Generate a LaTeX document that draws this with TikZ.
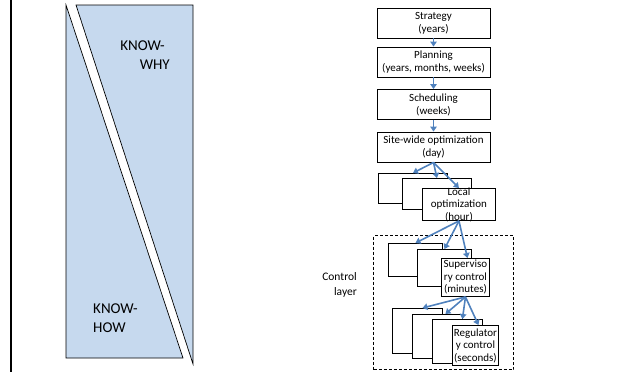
\documentclass[tikz,border=0pt]{standalone}
\usepackage{fontspec}
\setmainfont{Carlito}
\usetikzlibrary{arrows.meta}
\definecolor{panelblue}{RGB}{198,217,238}
\definecolor{arrowblue}{RGB}{79,129,189}

\begin{document}
\begin{tikzpicture}[x=1pt,y=-1pt,
  levelbox/.style={draw=black, line width=0.9pt, fill=white, minimum width=113pt,
    minimum height=30pt, inner sep=0pt, align=center, font=\fontsize{11}{13}\selectfont},
  stackbox/.style={draw=black, line width=0.9pt, fill=white, inner sep=0pt, anchor=north west},
  boxtext/.style={align=center, inner sep=0pt, font=\fontsize{11}{12.5}\selectfont},
  flow/.style={draw=arrowblue, line width=1.6pt, -{Triangle[width=6.5pt,length=5pt]}},
  panel/.style={fill=panelblue, draw=black, line width=0.7pt},
  bigtext/.style={font=\fontsize{15}{19}\selectfont, inner sep=0pt},
  layerframe/.style={draw=black, line width=1pt, dash pattern=on 3pt off 2pt,
    inner sep=0pt, anchor=north west},
]
\useasboundingbox (0,0) rectangle (621,372);

% separator line on the left
\draw[line width=1.5pt] (11,0) -- (11,372);

% know-how / know-why panel: two triangles split by a diagonal gap
\path[panel] (66,5) -- (183,358) -- (66,358) -- cycle;
\path[panel] (76,5) -- (193,5) -- (193,364) -- cycle;
\node[bigtext, align=right, anchor=east] (why) at (170,55) {KNOW-\hspace*{5pt}\\WHY};
\node[bigtext, align=left, anchor=west] (how) at (93,318) {KNOW-\\HOW};

% decision hierarchy
\node[levelbox] (strategy) at (433.5,23) {Strategy\\(years)};
\node[levelbox] (planning) at (433.5,62) {Planning\\(years, months, weeks)};
\node[levelbox] (scheduling) at (433.5,104.5) {Scheduling\\(weeks)};
\node[levelbox] (site) at (433.5,147) {Site-wide optimization\\(day)};

\draw[flow] (strategy) -- (planning);
\draw[flow] (planning) -- (scheduling);
\draw[flow] (scheduling) -- (site);

% local optimization layer
\node[stackbox, minimum width=69pt, minimum height=30pt] (locA) at (378,173) {};
\node[stackbox, minimum width=69pt, minimum height=31pt] (locB) at (402,178) {};
\node[stackbox, minimum width=73pt, minimum height=32pt] (locC) at (422,188) {};
\node[boxtext] (loctext) at (locC.center) {Local\\optimization\\(hour)};

\draw[flow] (site.south) -- (locA.north);
\draw[flow] (site.south) -- (locB.north);
\draw[flow] (site.south) -- (locC.north);

% control layer
\node[layerframe, minimum width=140pt, minimum height=134pt] (layer) at (373,235) {};
\node[align=right, anchor=east, inner sep=0pt, font=\fontsize{11.5}{15}\selectfont]
  (layerlabel) at (357,285) {Control\\layer};

\node[stackbox, minimum width=54pt, minimum height=33pt] (supA) at (388,243) {};
\node[stackbox, minimum width=54pt, minimum height=37pt] (supB) at (417,249) {};
\node[stackbox, minimum width=48pt, minimum height=38pt] (supC) at (441,258) {};
\node[boxtext] (suptext) at (supC.center) {Superviso\\ry control\\(minutes)};

\draw[flow] (locC.south) -- (supA.north);
\draw[flow] (locC.south) -- (supB.north);
\draw[flow] (locC.south) -- ([xshift=2pt]supC.north);

\node[stackbox, minimum width=50pt, minimum height=45pt] (regA) at (392,308) {};
\node[stackbox, minimum width=50pt, minimum height=44pt] (regB) at (412,314) {};
\node[stackbox, minimum width=50pt, minimum height=44pt] (regC) at (432,319) {};
\node[stackbox, minimum width=46pt, minimum height=40pt] (regD) at (452,325) {};
\node[boxtext] (regtext) at (regD.center) {Regulator\\y control\\(seconds)};

\draw[flow] (supC.south) -- ([xshift=5pt]regA.north);
\draw[flow] (supC.south) -- ([xshift=8pt]regB.north);
\draw[flow] (supC.south) -- ([xshift=5pt]regC.north);
\draw[flow] (supC.south) -- ([xshift=3pt]regD.north);
\end{tikzpicture}
\end{document}
